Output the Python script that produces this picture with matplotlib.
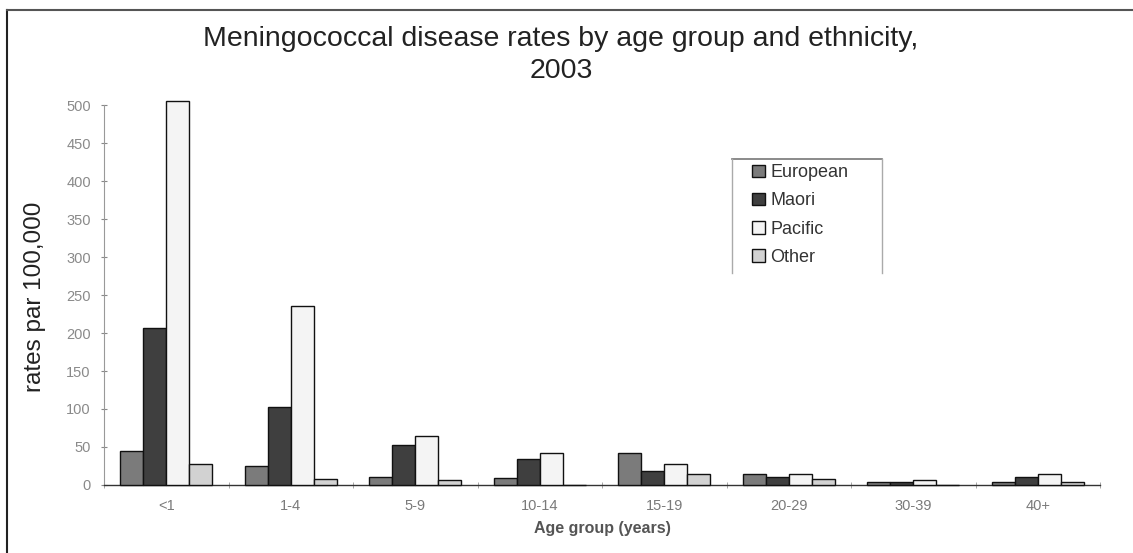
import numpy as np
import matplotlib.pyplot as plt
from matplotlib.lines import Line2D

age_groups = ["<1", "1-4", "5-9", "10-14", "15-19", "20-29", "30-39", "40+"]
european = [45, 25, 11, 9, 42, 15, 4, 4]
maori = [207, 102, 53, 34, 19, 11, 4, 11]
pacific = [505, 235, 64, 42, 28, 15, 7, 14]
other = [28, 8, 6, 0, 14, 8, 0, 4]

series = [
    ("European", european, "#7b7b7b"),
    ("Maori", maori, "#3f3f3f"),
    ("Pacific", pacific, "#f4f4f4"),
    ("Other", other, "#d2d2d2"),
]

plt.rcParams["font.family"] = ["Liberation Sans", "DejaVu Sans"]

fig = plt.figure(figsize=(11.33, 5.53), dpi=100)
ax = fig.add_axes([0.0918, 0.123, 0.8791, 0.687])

x = np.arange(len(age_groups))
w = 0.185
for i, (name, vals, col) in enumerate(series):
    ax.bar(x + (i - 1.5) * w, vals, width=w, color=col, edgecolor="#111111",
           linewidth=1.0, label=name, clip_on=False, zorder=3)

ax.set_xlim(-0.5, len(age_groups) - 0.5)
ax.set_ylim(0, 500)
ax.set_yticks(range(0, 501, 50))
ax.tick_params(axis="y", labelsize=10.5, labelcolor="#8a8a8a", color="#888888",
               direction="inout", length=5, pad=7)
ax.set_xticks(x)
ax.set_xticklabels(age_groups)
ax.tick_params(axis="x", labelsize=10.5, labelcolor="#7a7a7a", length=0, pad=10)
ax.set_xticks(np.arange(-0.5, len(age_groups), 1), minor=True)
ax.tick_params(axis="x", which="minor", direction="inout", length=5,
               color="#999999")

for s in ["top", "right"]:
    ax.spines[s].set_visible(False)
ax.spines["left"].set_color("#999999")
ax.spines["bottom"].set_color("#333333")
ax.spines["bottom"].set_linewidth(1.0)

ax.set_xlabel("Age group (years)", fontsize=11.5, fontweight="bold",
              color="#555555", labelpad=6)
fig.text(0.031, 0.463, "rates par 100,000", rotation=90, ha="center",
         va="center", fontsize=17.5, color="#222222")

fig.text(0.495, 0.917, "Meningococcal disease rates by age group and ethnicity,",
         ha="center", va="baseline", fontsize=20.5, color="#222222")
fig.text(0.495, 0.859, "2003", ha="center", va="baseline", fontsize=20.5,
         color="#222222")

leg = ax.legend(loc="upper left", bbox_to_anchor=(0.664, 0.703),
                bbox_transform=fig.transFigure, fontsize=13,
                frameon=False, handlelength=0.7, handleheight=0.7,
                handletextpad=0.3, labelspacing=0.62, borderpad=0,
                borderaxespad=0)
for t in leg.get_texts():
    t.set_color("#333333")

# legend box: top, left and right sides only
x0, x1 = 732 / 1133, 882 / 1133
y0, y1 = 1 - 273 / 553, 1 - 159 / 553
fig.add_artist(Line2D([x0, x1], [y1, y1], transform=fig.transFigure,
                      color="#777777", linewidth=1.2))
fig.add_artist(Line2D([x0, x0], [y0, y1], transform=fig.transFigure,
                      color="#aaaaaa", linewidth=1.0))
fig.add_artist(Line2D([x1, x1], [y0, y1], transform=fig.transFigure,
                      color="#aaaaaa", linewidth=1.0))

# outer frame lines (left and top)
fig.add_artist(Line2D([0.0065, 0.0065], [0, 0.982], transform=fig.transFigure,
                      color="#222222", linewidth=1.5))
fig.add_artist(Line2D([0.0065, 1.0], [0.982, 0.982], transform=fig.transFigure,
                      color="#555555", linewidth=1.5))

fig.savefig("out.png", dpi=100)
